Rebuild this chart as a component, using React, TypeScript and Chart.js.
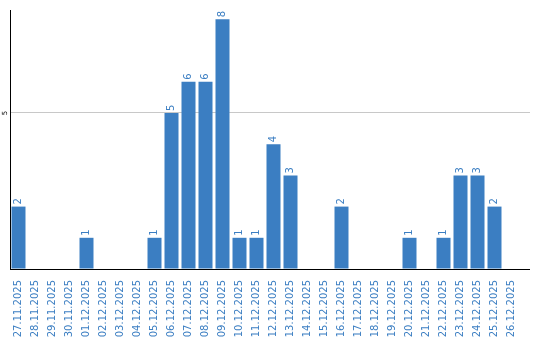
import React, { useEffect, useRef } from "react";
import { Chart, registerables } from "chart.js";

Chart.register(...registerables);

const categories: string[] = [
  "27.11.2025", "28.11.2025", "29.11.2025", "30.11.2025", "01.12.2025",
  "02.12.2025", "03.12.2025", "04.12.2025", "05.12.2025", "06.12.2025",
  "07.12.2025", "08.12.2025", "09.12.2025", "10.12.2025", "11.12.2025",
  "12.12.2025", "13.12.2025", "14.12.2025", "15.12.2025", "16.12.2025",
  "17.12.2025", "18.12.2025", "19.12.2025", "20.12.2025", "21.12.2025",
  "22.12.2025", "23.12.2025", "24.12.2025", "25.12.2025", "26.12.2025",
];
const counts: number[] = [
  2, 0, 0, 0, 1, 0, 0, 0, 1, 5,
  6, 6, 8, 1, 1, 4, 3, 0, 0, 2,
  0, 0, 0, 1, 0, 1, 3, 3, 2, 0,
];
const yTickStep = 5;
const yMax = 8.3;

const BLUE = "#3b7ec2";
const FONT = "'DejaVu Sans', sans-serif";

const align = (p: number) => Math.round(p - 0.5) + 0.5;

const extrasPlugin = {
  id: "extras",
  afterDraw(chart: any) {
    const { ctx, chartArea } = chart;
    const y = chart.scales.y;
    const ext = 10;
    ctx.save();
    ctx.strokeStyle = "#000";
    ctx.lineWidth = 1;
    ctx.beginPath();
    ctx.moveTo(chartArea.right - 1, align(y.getPixelForValue(0)));
    ctx.lineTo(chartArea.right + ext, align(y.getPixelForValue(0)));
    ctx.stroke();
    ctx.strokeStyle = "#c8c8c8";
    y.ticks.forEach((t: any) => {
      if (t.value === 0) return;
      const py = align(y.getPixelForValue(t.value));
      ctx.beginPath();
      ctx.moveTo(chartArea.right - 1, py);
      ctx.lineTo(chartArea.right + ext, py);
      ctx.stroke();
    });
    ctx.fillStyle = "#000";
    ctx.font = `7px ${FONT}`;
    ctx.textAlign = "center";
    ctx.textBaseline = "middle";
    y.ticks.forEach((t: any) => {
      if (t.value === 0) return;
      const py = y.getPixelForValue(t.value);
      ctx.save();
      ctx.translate(chartArea.left - 5, py);
      ctx.rotate(-Math.PI / 2);
      ctx.fillText(String(t.value), 0, 0);
      ctx.restore();
    });
    const meta = chart.getDatasetMeta(0);
    ctx.fillStyle = BLUE;
    ctx.font = `10px ${FONT}`;
    ctx.textAlign = "left";
    ctx.textBaseline = "middle";
    meta.data.forEach((bar: any, i: number) => {
      const v = counts[i];
      if (!v) return;
      ctx.save();
      ctx.translate(bar.x, bar.y - 2);
      ctx.rotate(-Math.PI / 2);
      ctx.fillText(String(v), 0, 0);
      ctx.restore();
    });
    ctx.restore();
  },
};

export default function App() {
  const ref = useRef<HTMLCanvasElement | null>(null);
  useEffect(() => {
    document.body.style.margin = "0";
    const canvas = ref.current!;
    const chart = new Chart(canvas, {
      type: "bar",
      data: {
        labels: categories,
        datasets: [
          {
            data: counts,
            backgroundColor: BLUE,
            borderWidth: 0,
            categoryPercentage: 1,
            barPercentage: 14 / 17,
          },
        ],
      },
      options: {
        animation: false,
        responsive: false,
        maintainAspectRatio: false,
        layout: { padding: { top: 10, right: 20, left: 0, bottom: 0 } },
        plugins: { legend: { display: false }, tooltip: { enabled: false } },
        scales: {
          x: {
            grid: { display: false },
            border: { display: true, color: "#000", width: 1 },
            ticks: {
              color: BLUE,
              font: { family: FONT, size: 10 },
              minRotation: 90,
              maxRotation: 90,
              autoSkip: false,
              padding: 3,
            },
            afterFit(scale: any) {
              scale.height = 71;
            },
          },
          y: {
            min: 0,
            max: yMax,
            ticks: { stepSize: yTickStep, display: false },
            afterBuildTicks(scale: any) {
              scale.ticks = scale.ticks.filter((t: any) => t.value % yTickStep === 0);
            },
            grid: {
              color: (c: any) => (c.tick && c.tick.value !== 0 ? "#c8c8c8" : "rgba(0,0,0,0)"),
              drawTicks: false,
            },
            border: { display: true, color: "#000", width: 1 },
            afterFit(scale: any) {
              scale.width = 10;
            },
          },
        },
      },
      plugins: [extrasPlugin],
    });
    return () => chart.destroy();
  }, []);
  return <canvas ref={ref} width={540} height={340} style={{ display: "block" }} />;
}
